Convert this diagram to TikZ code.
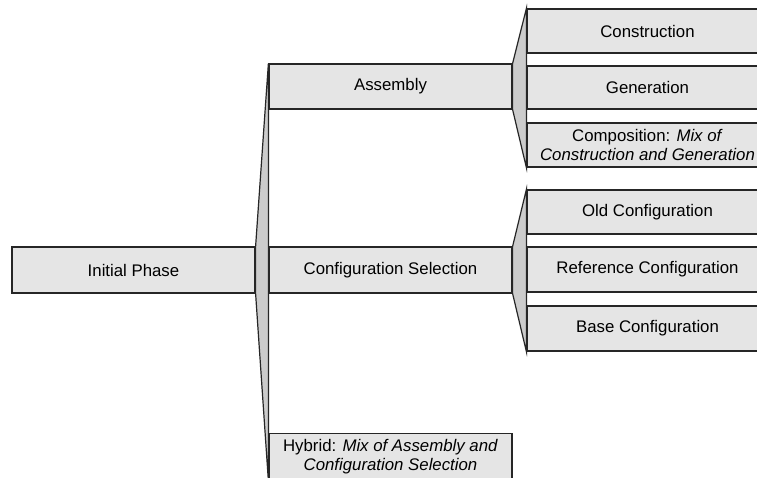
\documentclass[tikz,border=0pt]{standalone}
\usepackage{fontspec}
\setmainfont{Liberation Sans}
\begin{document}
\begin{tikzpicture}[x=1pt,y=-1pt,
  every node/.style={font=\fontsize{16.8}{19}\selectfont},
  box/.style={draw=black!85, line width=1.2pt, fill=black!10, rectangle,
    inner sep=0pt, align=center},
  lvlone/.style={box, minimum width=243pt},
  lvltwo/.style={box, minimum width=241pt},
  fan/.style={draw=black!85, line width=1.2pt, fill=black!20, line join=miter}]
\useasboundingbox (0,0) rectangle (757,477);
\clip (0,0) rectangle (757,477);
\fill[white] (0,0) rectangle (757,477);

% boxes
\node[lvlone, minimum height=46pt] (init) at (133.5,270) {Initial Phase};
\node[lvlone, minimum height=45pt] (asm) at (390.5,86.5) {Assembly};
\node[lvlone, minimum height=46pt] (cfg) at (390.5,270) {Configuration Selection};
\node[lvlone, minimum height=47pt] (hyb) at (390.5,457)
  {Hybrid: \textit{Mix of Assembly and}\\\textit{Configuration Selection}};

\node[lvltwo, minimum height=44pt] (con) at (647.5,31) {Construction};
\node[lvltwo, minimum height=43pt] (gen) at (647.5,87.5) {Generation};
\node[lvltwo, minimum height=44pt] (comp) at (647.5,145)
  {Composition: \textit{Mix of}\\\textit{Construction and Generation}};

\node[lvltwo, minimum height=44pt] (old) at (647.5,212) {Old Configuration};
\node[lvltwo, minimum height=45pt] (ref) at (647.5,269.5) {Reference Configuration};
\node[lvltwo, minimum height=45pt] (base) at (647.5,328.5) {Base Configuration};

% fan-out brackets joining each parent to its children
\draw[fan] (asm.north west) -- (init.north east) -- (init.south east)
  -- (hyb.south west) -- cycle;
\draw[fan] (con.north west) -- (asm.north east) -- (asm.south east)
  -- (comp.south west) -- cycle;
\draw[fan] (old.north west) -- (cfg.north east) -- (cfg.south east)
  -- (base.south west) -- cycle;
\end{tikzpicture}
\end{document}
